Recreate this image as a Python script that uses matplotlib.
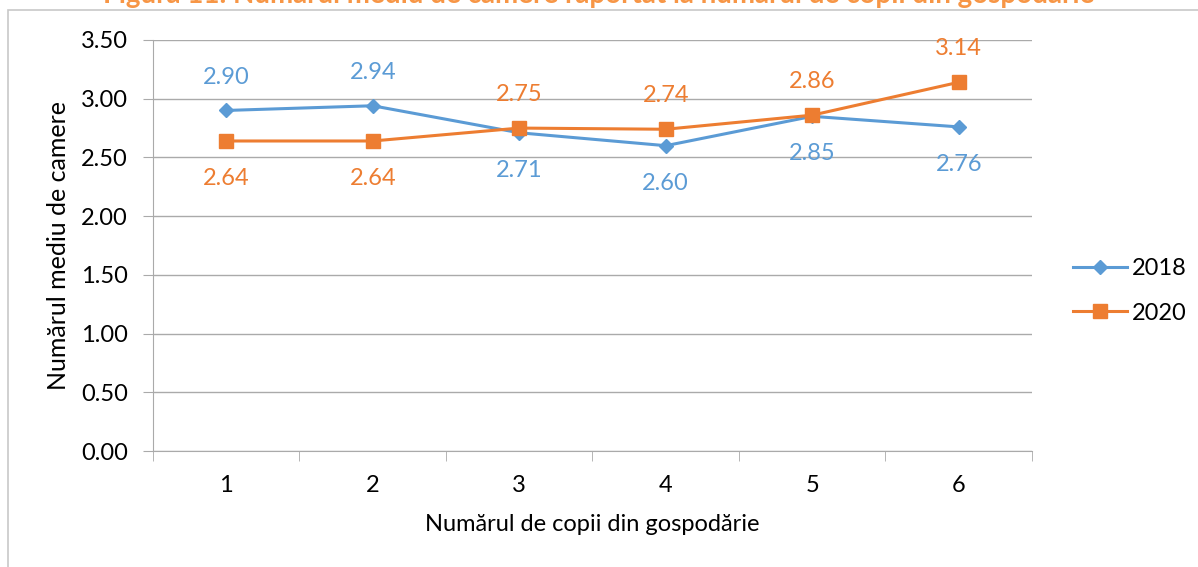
import matplotlib
matplotlib.use("Agg")

import matplotlib.pyplot as plt
from matplotlib.patches import Rectangle

# data
copii = [1, 2, 3, 4, 5, 6]
val_2018 = [2.90, 2.94, 2.71, 2.60, 2.85, 2.76]
val_2020 = [2.64, 2.64, 2.75, 2.74, 2.86, 3.14]
# label placement: +1 above, -1 below
pos_2018 = [1, 1, -1, -1, -1, -1]
pos_2020 = [-1, -1, 1, 1, 1, 1]
yticks = [0.0, 0.5, 1.0, 1.5, 2.0, 2.5, 3.0, 3.5]

BLUE = "#5B9BD5"
ORANGE = "#ED7D31"
GRID = "#aaaaaa"

plt.rcParams["font.family"] = ["Lato", "DejaVu Sans"]

fig = plt.figure(figsize=(11.98, 5.67), dpi=100)

# outer chart border (partly off the page)
fig.patches.append(Rectangle((8 / 1198, -0.05), 1.2, (557 / 567) + 0.05,
                             transform=fig.transFigure, fill=False,
                             edgecolor="#c8c8c8", linewidth=1.2))

# title, cut off at the top as in the source
fig.text(0.5, 1.008, "Figura 11. Numărul mediu de camere raportat la numărul de copii din gospodărie",
         ha="center", va="center", fontsize=20, fontweight="bold", color="#F79646")

ax = fig.add_axes([153 / 1198, 116 / 567, 879 / 1198, 411 / 567])

ax.plot(copii, val_2018, color=BLUE, lw=2.2, marker="D", markersize=7.5, label="2018")
ax.plot(copii, val_2020, color=ORANGE, lw=2.2, marker="s", markersize=9.5, label="2020")

def offset(p):
    return 24 if p > 0 else -27

for x, y, p in zip(copii, val_2018, pos_2018):
    ax.annotate(f"{y:.2f}", (x, y), xytext=(0, offset(p)), textcoords="offset points",
                ha="center", va="center", fontsize=17, color=BLUE)
for x, y, p in zip(copii, val_2020, pos_2020):
    ax.annotate(f"{y:.2f}", (x, y), xytext=(0, offset(p)), textcoords="offset points",
                ha="center", va="center", fontsize=17, color=ORANGE)

ax.set_xlim(0.5, 6.5)
ax.set_ylim(0, 3.5)
ax.set_yticks(yticks)
ax.set_yticklabels([f"{t:.2f}" for t in yticks])
ax.set_xticks(copii)
ax.set_xticks([0.5 + i for i in range(7)], minor=True)
ax.tick_params(axis="x", which="major", length=0, pad=17, labelsize=17)
ax.tick_params(axis="x", which="minor", length=7, color=GRID)
ax.tick_params(axis="y", length=7, color=GRID, labelsize=17, pad=11)

ax.grid(axis="y", color=GRID, lw=1)
ax.set_axisbelow(True)
for s in ["top", "right"]:
    ax.spines[s].set_visible(False)
ax.spines["left"].set_color(GRID)
ax.spines["bottom"].set_color(GRID)

ax.set_xlabel("Numărul de copii din gospodărie", fontsize=17, labelpad=13)
ax.set_ylabel("Numărul mediu de camere", fontsize=18, labelpad=8)

ax.legend(loc="center left", bbox_to_anchor=(1.022, 0.39), frameon=False,
          fontsize=17, handlelength=2.3, labelspacing=1.0, handletextpad=0.2)

fig.savefig("out.png", dpi=100)
